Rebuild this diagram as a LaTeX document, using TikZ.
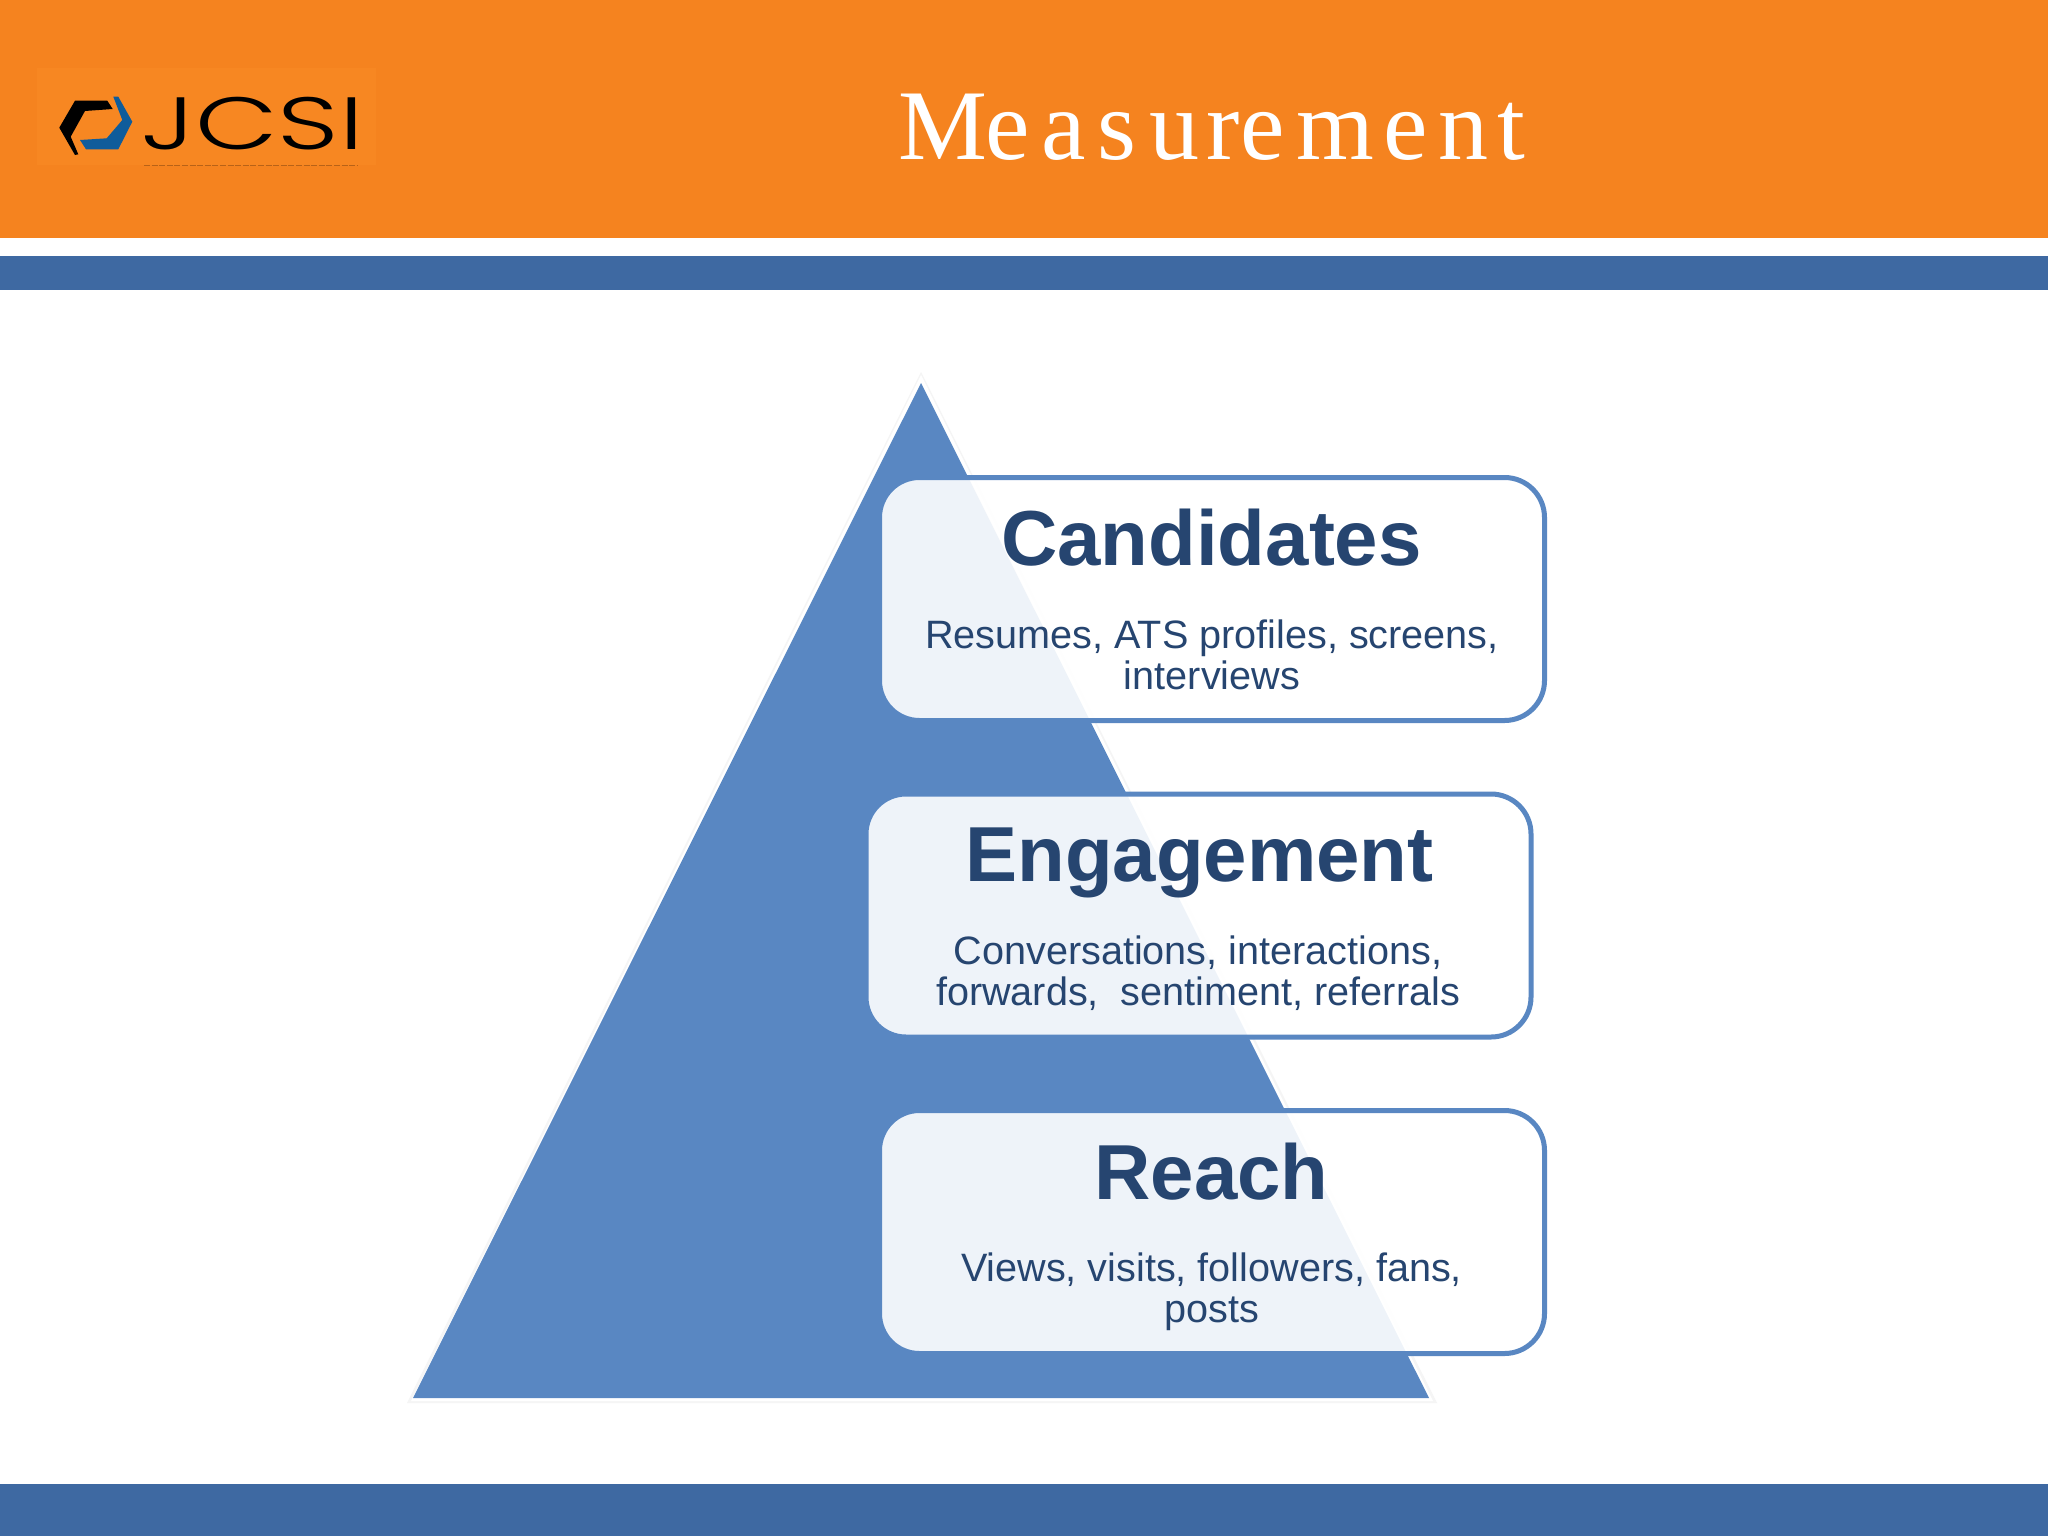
\documentclass[tikz,border=0pt]{standalone}
\usepackage{fontspec}
\setmainfont{Liberation Sans}
\newfontfamily\serifttl{Liberation Serif}
\newfontfamily\logofont[UprightFont=* Light]{Poppins}
\definecolor{bandorange}{HTML}{F5831F}
\definecolor{logobg}{HTML}{F78722}
\definecolor{bandblue}{HTML}{3E69A2}
\definecolor{pyrblue}{HTML}{5987C2}
\definecolor{inkblue}{HTML}{264570}
\definecolor{logoblue}{HTML}{0F5C9B}
\tikzset{
  x=0.5pt,y=-0.5pt,
  infobox/.style={draw=pyrblue,line width=2.5pt,fill=white,fill opacity=.9,draw opacity=1,
    rounded corners=20pt,minimum width=332.5pt,minimum height=121.5pt,inner sep=0pt,outer sep=0pt},
  headtxt/.style={anchor=base,inner sep=0pt,text=inkblue,font=\fontsize{39}{39}\selectfont\bfseries},
  desctxt/.style={anchor=base,inner sep=0pt,text=inkblue,font=\fontsize{19.8}{20.5}\selectfont,align=center},
}
\begin{document}
\begin{tikzpicture}
\useasboundingbox (0,0) rectangle (2048,1536);
\fill[white] (0,0) rectangle (2048,1536);
% bands
\fill[bandorange] (0,0) rectangle (2048,238);
\fill[bandblue] (0,256) rectangle (2048,290);
\fill[bandblue] (0,1484) rectangle (2048,1536);
% logo
\fill[logobg] (37,68) rectangle (376,165);
\fill[black] (59.3,127.7) -- (75,100.7) -- (107.3,100.7) -- (112.7,109) -- (85,111) -- (70.7,136.7) -- (78.3,154.3) -- (75,155) -- cycle;
\fill[logoblue] (113.3,96.7) -- (118.3,96.7) -- (132.3,121.7) -- (118.3,149.3) -- (86,149.3) -- (80,140) -- (106.7,138.3) -- (122.3,120) -- cycle;
\node[anchor=base west,inner sep=0pt,text=black,font=\logofont\fontsize{37}{37}\selectfont,xscale=1.45] (logotext) at (141,149) {JCSI};
\draw[line width=.75pt,dash pattern=on 3pt off .8pt,color=bandorange!75!black] (144,165.5) -- (358,165.5);
% title
\node[anchor=base west,inner sep=0pt,text=white,font=\serifttl\fontsize{50}{50}\selectfont] (title) at (898,159)
 {M\kern-.95pt e\kern5.8pt a\kern5.8pt s\kern6.55pt u\kern3.75pt r\kern.35pt e\kern5.75pt m\kern4.65pt e\kern5.25pt n\kern4.15pt t};
% pyramid
\fill[black!4] (921,372) -- (1437,1403) -- (407,1403) -- cycle;
\fill[white] (921,375) -- (1433,1401) -- (411,1401) -- cycle;
\fill[pyrblue] (921,383) -- (1429,1398) -- (413,1398) -- cycle;
% boxes
\node[infobox] (cand) at (1212,599) {};
\node[infobox] (enga) at (1198.5,915.5) {};
\node[infobox] (reach) at (1212,1232) {};
% text
\node[headtxt] (candh) at (1211.5,565) {Candidates};
\node[desctxt] (candd) at (1212,689) {Resumes, ATS profiles, screens,\\interviews};
\node[headtxt] (engah) at (1199.5,881) {Engagement};
\node[desctxt] (engad) at (1198,1005) {Conversations, interactions,\\forwards,\ \ sentiment, referrals};
\node[headtxt] (reachh) at (1211.5,1199) {Reach};
\node[desctxt] (reachd) at (1211.5,1322) {Views, visits, followers, fans,\\posts};
\end{tikzpicture}
\end{document}
